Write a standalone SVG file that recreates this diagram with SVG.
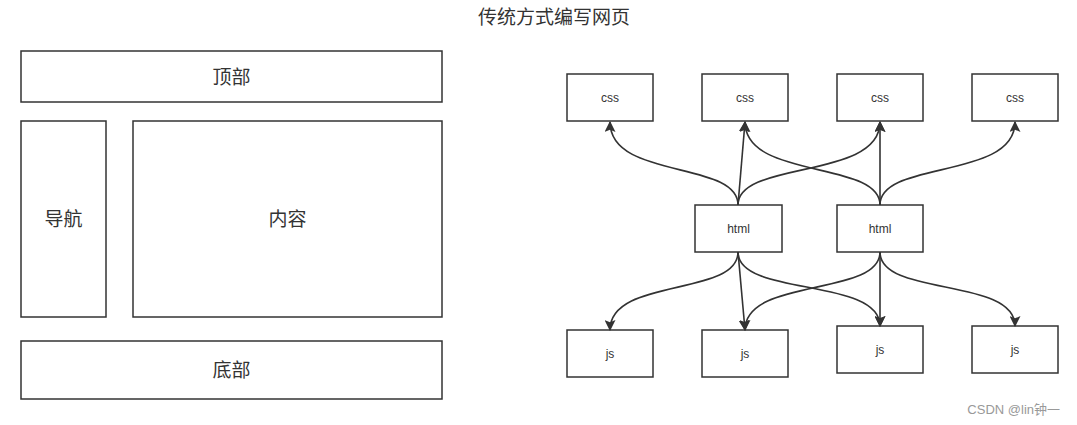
<svg xmlns="http://www.w3.org/2000/svg" width="1077" height="425" viewBox="0 0 1077 425">
<style>
.box{fill:#fff;stroke:#333;stroke-width:1.5}
.big{font-family:"Liberation Sans","Noto Sans CJK SC",sans-serif;font-size:19px;fill:#333;text-anchor:middle}
.sm{font-family:"Liberation Sans","Noto Sans CJK SC",sans-serif;font-size:12px;fill:#333;text-anchor:middle}
.edge{fill:none;stroke:#333;stroke-width:1.6}
</style>
<defs>
<marker id="arr" viewBox="0 0 10 10" refX="9" refY="5" markerWidth="11" markerHeight="11" markerUnits="userSpaceOnUse" orient="auto">
<path d="M0,0 L10,5 L0,10 L2,5 Z" fill="#333"/>
</marker>
</defs>
<rect width="1077" height="425" fill="#fff"/>
<text x="554" y="24" class="big">传统方式编写网页</text>

<g id="top"><rect class="box" x="21" y="51" width="421" height="51"/><text class="big" x="231.5" y="84">顶部</text></g>
<g id="nav"><rect class="box" x="21" y="121" width="85" height="196"/><text class="big" x="63.5" y="226">导航</text></g>
<g id="content"><rect class="box" x="133" y="121" width="309" height="196"/><text class="big" x="287.5" y="226">内容</text></g>
<g id="bottom"><rect class="box" x="21" y="341" width="421" height="58"/><text class="big" x="231.5" y="377">底部</text></g>

<g id="css1"><rect class="box" x="567" y="74" width="86" height="47"/><text class="sm" x="610" y="102">css</text></g>
<g id="css2"><rect class="box" x="702" y="74" width="86" height="47"/><text class="sm" x="745" y="102">css</text></g>
<g id="css3"><rect class="box" x="837" y="74" width="86" height="47"/><text class="sm" x="880" y="102">css</text></g>
<g id="css4"><rect class="box" x="972" y="74" width="86" height="47"/><text class="sm" x="1015" y="102">css</text></g>

<g id="html1"><rect class="box" x="695" y="205" width="87" height="47"/><text class="sm" x="738.5" y="233">html</text></g>
<g id="html2"><rect class="box" x="837" y="205" width="86" height="47"/><text class="sm" x="880" y="233">html</text></g>

<g id="js1"><rect class="box" x="567" y="330" width="86" height="47"/><text class="sm" x="610" y="358">js</text></g>
<g id="js2"><rect class="box" x="702" y="330" width="86" height="47"/><text class="sm" x="745" y="358">js</text></g>
<g id="js3"><rect class="box" x="837" y="326" width="86" height="47"/><text class="sm" x="880" y="354">js</text></g>
<g id="js4"><rect class="box" x="972" y="326" width="86" height="47"/><text class="sm" x="1015" y="354">js</text></g>

<g id="connectors">
<path class="edge" d="M738,205 C738,160 610,180 610,122" marker-end="url(#arr)"/>
<path class="edge" d="M738,205 L745,122" marker-end="url(#arr)"/>
<path class="edge" d="M738,205 C738,160 880,180 880,122" marker-end="url(#arr)"/>
<path class="edge" d="M880,205 C880,160 745,180 745,122" marker-end="url(#arr)"/>
<path class="edge" d="M880,205 L880,122" marker-end="url(#arr)"/>
<path class="edge" d="M880,205 C880,160 1015,180 1015,122" marker-end="url(#arr)"/>
<path class="edge" d="M738,252 C738,297 610,277 610,330" marker-end="url(#arr)"/>
<path class="edge" d="M738,252 L745,330" marker-end="url(#arr)"/>
<path class="edge" d="M738,252 C738,297 880,277 880,326" marker-end="url(#arr)"/>
<path class="edge" d="M880,252 C880,297 745,277 745,330" marker-end="url(#arr)"/>
<path class="edge" d="M880,252 L880,326" marker-end="url(#arr)"/>
<path class="edge" d="M880,252 C880,297 1015,277 1015,326" marker-end="url(#arr)"/>
</g>
<text x="1060" y="414" style="font-family:'Liberation Sans','Noto Sans CJK SC',sans-serif;font-size:13px;fill:#999;text-anchor:end">CSDN @lin钟一</text>
</svg>
